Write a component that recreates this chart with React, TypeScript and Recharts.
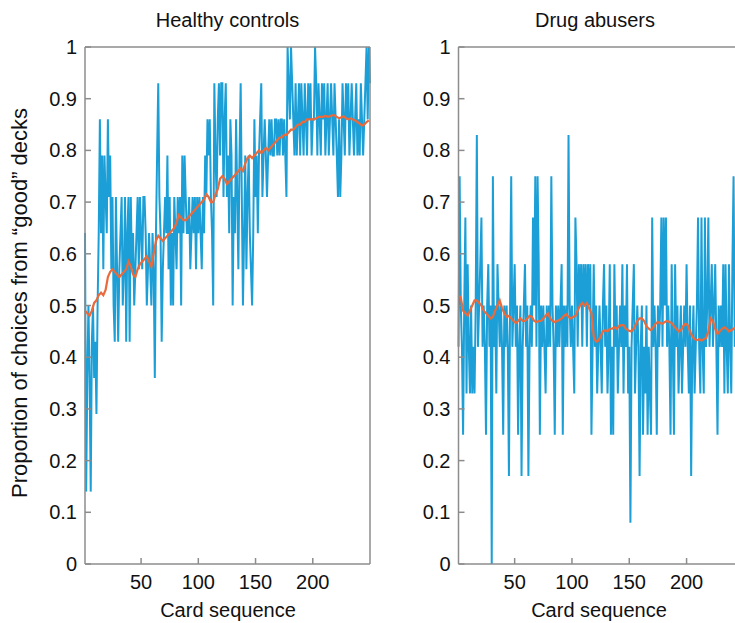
import React from 'react';
import { LineChart, Line, XAxis, YAxis } from 'recharts';

// proportion of "good" deck choices per card
const healthyChoices = [
  0.64, 0.14, 0.36, 0.5, 0.36, 0.14, 0.43, 0.5, 0.36, 0.43, 0.29, 0.5, 0.64,
  0.86, 0.64, 0.79, 0.57, 0.79, 0.71, 0.64, 0.86, 0.71, 0.79, 0.57, 0.71, 0.5, 0.43,
  0.71, 0.57, 0.43, 0.57, 0.64, 0.71, 0.5, 0.57, 0.71, 0.43, 0.64, 0.71, 0.43, 0.71, 0.57, 0.64, 0.5,
  0.57, 0.64, 0.71, 0.57, 0.71, 0.64, 0.57, 0.71, 0.71, 0.64, 0.5, 0.57, 0.64, 0.57, 0.5, 0.64,
  0.57, 0.36, 0.64, 0.79, 0.93, 0.71, 0.64, 0.43, 0.57, 0.64,
  0.71, 0.64, 0.79, 0.57, 0.71, 0.5, 0.64, 0.5, 0.71, 0.64, 0.57, 0.71, 0.64, 0.71, 0.5, 0.79, 0.64, 0.79, 0.71, 0.64,
  0.64, 0.71, 0.57, 0.64, 0.71, 0.64, 0.71, 0.57, 0.71, 0.64, 0.71, 0.64, 0.57, 0.71, 0.64, 0.79, 0.71,
  0.86, 0.79, 0.86, 0.71, 0.64, 0.5, 0.93, 0.79, 0.71, 0.86, 0.93, 0.79, 0.93, 0.93, 0.71, 0.86, 0.93, 0.71, 0.79, 0.64, 0.86,
  0.79, 0.5, 0.71, 0.64, 0.86, 0.71, 0.57, 0.79, 0.93, 0.71, 0.5, 0.64, 0.79, 0.57, 0.71, 0.79,
  0.64, 0.57, 0.5, 0.64, 0.86, 0.71, 0.79, 0.64, 0.79, 0.86, 0.93, 0.71, 0.79, 0.86, 0.79, 0.71,
  0.79, 0.86, 0.79, 0.86, 0.79, 0.79, 0.86, 0.86, 0.79, 0.86, 0.79, 0.86, 0.86, 0.79, 0.86, 0.79,
  0.71, 1, 0.93, 0.86, 1, 0.93, 0.86, 0.79, 0.93, 0.79, 0.86, 0.93, 0.79, 0.93, 0.86, 0.79, 0.93, 0.86, 0.79, 0.93, 0.86, 0.93, 0.79, 0.86,
  0.86, 1, 0.93, 0.79, 0.93, 0.86, 0.79, 0.93, 0.86, 0.93,
  0.79, 0.86, 0.93, 0.79, 0.86, 0.93, 0.86, 0.79, 0.93, 0.86,
  0.79, 0.71, 0.86, 0.71, 0.79, 0.93, 0.86, 0.79, 0.93, 0.86,
  0.93, 0.79, 0.86, 0.93, 0.86, 0.79, 0.86, 0.93, 0.79, 0.86,
  0.79, 0.93, 0.86, 0.79, 0.86, 0.93, 1, 0.86, 1, 0.93,
];

// [card, running mean]
const healthyTrend = [
  [1, 0.49], [3, 0.485], [5, 0.48], [7, 0.49], [9, 0.505], [11, 0.51], [13, 0.52], [15, 0.525], [17, 0.52], [19, 0.53],
  [21, 0.555], [23, 0.565], [25, 0.57], [27, 0.565], [29, 0.56], [31, 0.555], [33, 0.56], [35, 0.565], [37, 0.57], [39, 0.585],
  [41, 0.575], [43, 0.56], [45, 0.555], [47, 0.57], [49, 0.58], [51, 0.585], [53, 0.59], [55, 0.595], [57, 0.585], [59, 0.575],
  [61, 0.6], [63, 0.625], [65, 0.635], [67, 0.63], [69, 0.625], [71, 0.63], [73, 0.635], [75, 0.64], [77, 0.645], [79, 0.65],
  [81, 0.66], [83, 0.675], [85, 0.67], [87, 0.665], [89, 0.665], [91, 0.67], [93, 0.675], [95, 0.68], [97, 0.685], [99, 0.69],
  [101, 0.695], [103, 0.7], [105, 0.705], [107, 0.715], [109, 0.71], [111, 0.7], [113, 0.7], [115, 0.715], [117, 0.725], [119, 0.745],
  [121, 0.75], [123, 0.745], [125, 0.735], [127, 0.74], [129, 0.745], [131, 0.75], [133, 0.755], [135, 0.76], [137, 0.765], [139, 0.76],
  [141, 0.775], [143, 0.785], [145, 0.79], [147, 0.785], [149, 0.79], [151, 0.795], [153, 0.8], [155, 0.795], [157, 0.8], [159, 0.805],
  [161, 0.8], [163, 0.805], [165, 0.81], [167, 0.815], [169, 0.82], [171, 0.825], [173, 0.825], [175, 0.83], [177, 0.83], [179, 0.835],
  [181, 0.84], [183, 0.84], [185, 0.845], [187, 0.85], [189, 0.85], [191, 0.855], [193, 0.855], [195, 0.86], [197, 0.86], [199, 0.86],
  [201, 0.86], [203, 0.862], [205, 0.865], [207, 0.865], [209, 0.865], [211, 0.867], [213, 0.865], [215, 0.866], [217, 0.868], [219, 0.868],
  [221, 0.865], [223, 0.862], [225, 0.864], [227, 0.866], [229, 0.862], [231, 0.86], [233, 0.862], [235, 0.86], [237, 0.858], [239, 0.855],
  [241, 0.852], [243, 0.848], [245, 0.85], [247, 0.855], [249, 0.858],
];

const abuserChoices = [
  0.42, 0.75, 0.5, 0.42, 0.25, 0.5, 0.67, 0.33, 0.58, 0.42, 0.33, 0.5, 0.33, 0.42, 0.33, 0.5, 0.83, 0.42, 0.5, 0.58,
  0.67, 0.42, 0.5, 0.42, 0.25, 0.5, 0.58, 0.42, 0.5, 0, 0.75, 0.42, 0.5, 0.33, 0.58, 0.5, 0.42, 0.5, 0.42, 0.25,
  0.5, 0.42, 0.5, 0.42, 0.17, 0.5, 0.75, 0.42, 0.5, 0.58, 0.42, 0.5, 0.25, 0.42, 0.5, 0.17, 0.42, 0.5, 0.58, 0.42,
  0.5, 0.17, 0.42, 0.5, 0.42, 0.67, 0.5, 0.75, 0.42, 0.75, 0.58, 0.25, 0.5, 0.42, 0.5, 0.42, 0.33, 0.5, 0.42, 0.5,
  0.42, 0.75, 0.5, 0.42, 0.25, 0.5, 0.42, 0.5, 0.42, 0.5, 0.58, 0.25, 0.5, 0.42, 0.5, 0.42, 0.83, 0.5, 0.42, 0.5,
  0.42, 0.33, 0.67, 0.58, 0.42, 0.58, 0.5, 0.58, 0.42, 0.58, 0.5, 0.58, 0.42, 0.58, 0.5, 0.58, 0.25, 0.42, 0.58, 0.42,
  0.5, 0.33, 0.42, 0.5, 0.42, 0.33, 0.5, 0.58, 0.42, 0.5, 0.33, 0.42, 0.58, 0.25, 0.42, 0.25, 0.58, 0.42, 0.5, 0.33,
  0.42, 0.5, 0.42, 0.58, 0.33, 0.5, 0.42, 0.58, 0.33, 0.42, 0.08, 0.42, 0.5, 0.58, 0.33, 0.42, 0.5, 0.42, 0.17, 0.42,
  0.5, 0.25, 0.42, 0.33, 0.5, 0.25, 0.42, 0.33, 0.25, 0.67, 0.42, 0.5, 0.42, 0.25, 0.5, 0.42, 0.5, 0.67, 0.42, 0.67,
  0.5, 0.67, 0.42, 0.5, 0.42, 0.25, 0.58, 0.42, 0.25, 0.58, 0.42, 0.5, 0.33, 0.42, 0.5, 0.33, 0.42, 0.5, 0.42, 0.58,
  0.42, 0.33, 0.5, 0.17, 0.42, 0.5, 0.33, 0.42, 0.5, 0.67, 0.42, 0.33, 0.67, 0.42, 0.33, 0.67, 0.42, 0.5, 0.67, 0.42,
  0.5, 0.58, 0.42, 0.5, 0.58, 0.42, 0.25, 0.5, 0.42, 0.5, 0.42, 0.58, 0.33, 0.58, 0.42, 0.33, 0.58, 0.42, 0.33, 0.58,
  0.75, 0.42, 0.5, 0.42,
];

const abuserTrend = [
  [1, 0.52], [3, 0.515], [5, 0.49], [7, 0.485], [9, 0.48], [11, 0.49], [13, 0.5], [15, 0.51], [17, 0.51], [19, 0.505],
  [21, 0.5], [23, 0.49], [25, 0.485], [27, 0.48], [29, 0.475], [31, 0.478], [33, 0.49], [35, 0.5], [37, 0.51], [39, 0.495],
  [41, 0.485], [43, 0.478], [45, 0.48], [47, 0.475], [49, 0.47], [51, 0.466], [53, 0.47], [55, 0.475], [57, 0.47], [59, 0.47],
  [61, 0.475], [63, 0.48], [65, 0.478], [67, 0.47], [69, 0.468], [71, 0.47], [73, 0.47], [75, 0.475], [77, 0.48], [79, 0.485],
  [81, 0.475], [83, 0.47], [85, 0.468], [87, 0.47], [89, 0.472], [91, 0.475], [93, 0.48], [95, 0.483], [97, 0.478], [99, 0.475],
  [101, 0.478], [103, 0.48], [105, 0.49], [107, 0.5], [109, 0.505], [111, 0.5], [113, 0.505], [115, 0.495], [117, 0.485], [119, 0.44],
  [121, 0.43], [123, 0.432], [125, 0.44], [127, 0.45], [129, 0.452], [131, 0.45], [133, 0.455], [135, 0.455], [137, 0.458], [139, 0.455],
  [141, 0.46], [143, 0.462], [145, 0.462], [147, 0.455], [149, 0.452], [151, 0.45], [153, 0.452], [155, 0.46], [157, 0.47], [159, 0.475],
  [161, 0.475], [163, 0.47], [165, 0.46], [167, 0.455], [169, 0.452], [171, 0.458], [173, 0.465], [175, 0.468], [177, 0.466], [179, 0.465],
  [181, 0.468], [183, 0.47], [185, 0.468], [187, 0.466], [189, 0.46], [191, 0.455], [193, 0.45], [195, 0.452], [197, 0.46], [199, 0.465],
  [201, 0.462], [203, 0.45], [205, 0.44], [207, 0.435], [209, 0.433], [211, 0.435], [213, 0.432], [215, 0.435], [217, 0.437], [219, 0.45],
  [221, 0.475], [223, 0.47], [225, 0.455], [227, 0.445], [229, 0.45], [231, 0.455], [233, 0.458], [235, 0.455], [237, 0.45], [239, 0.452],
  [241, 0.455], [243, 0.458],
];

const yTicks = [0, 0.1, 0.2, 0.3, 0.4, 0.5, 0.6, 0.7, 0.8, 0.9, 1];
const xTicks = [50, 100, 150, 200];

const BLUE = '#1b9fd6';
const ORANGE = '#ea6a3b';
const AXIS = '#8c8c8c';
const FONT = '"Liberation Sans", Arial, Helvetica, sans-serif';
const TICK_LEN = 6;

const BottomTick = (props: any) => {
  const { x, y, payload } = props;
  return (
    <g>
      <line x1={x} x2={x} y1={y} y2={y - TICK_LEN} stroke={AXIS} strokeWidth={1.5} />
      <text x={x} y={y + 25} textAnchor="middle" fontSize={20} fontFamily={FONT} fill="#111">
        {payload.value}
      </text>
    </g>
  );
};

const TopTick = (props: any) => {
  const { x, y } = props;
  return <line x1={x} x2={x} y1={y} y2={y + TICK_LEN} stroke={AXIS} strokeWidth={1.5} />;
};

const LeftTick = (props: any) => {
  const { x, y, payload } = props;
  return (
    <g>
      <line x1={x} x2={x + TICK_LEN} y1={y} y2={y} stroke={AXIS} strokeWidth={1.5} />
      <text x={x - 8} y={y + 7} textAnchor="end" fontSize={20} fontFamily={FONT} fill="#111">
        {String(payload.value)}
      </text>
    </g>
  );
};

const RightTick = (props: any) => {
  const { x, y } = props;
  return <line x1={x} x2={x - TICK_LEN} y1={y} y2={y} stroke={AXIS} strokeWidth={1.5} />;
};

interface PanelProps {
  choices: number[];
  trend: number[][];
  maxCard: number;
  width: number;
  left: number;
}

// axes get a 1px thickness so recharts still draws them; margins absorb it
function Panel({ choices, trend, maxCard, width, left }: PanelProps) {
  const raw = choices.map((p, i) => ({ card: i + 1, p }));
  const avg = trend.map(([card, p]) => ({ card, p }));
  const axisLine = { stroke: AXIS, strokeWidth: 1.5 };
  return (
    <LineChart width={width} height={623} margin={{ top: 46, right: 9, bottom: 58, left: left - 1 }}>
      <XAxis
        xAxisId="b"
        dataKey="card"
        type="number"
        domain={[1, maxCard]}
        ticks={xTicks}
        interval={0}
        height={1}
        tickSize={0}
        tickMargin={0}
        tickLine={false}
        axisLine={axisLine}
        tick={<BottomTick />}
      />
      <XAxis
        xAxisId="t"
        orientation="top"
        type="number"
        domain={[1, maxCard]}
        ticks={xTicks}
        interval={0}
        height={1}
        tickSize={0}
        tickMargin={0}
        tickLine={false}
        axisLine={axisLine}
        tick={<TopTick />}
      />
      <YAxis
        yAxisId="l"
        type="number"
        domain={[0, 1]}
        ticks={yTicks}
        interval={0}
        width={1}
        tickSize={0}
        tickMargin={0}
        tickLine={false}
        axisLine={axisLine}
        tick={<LeftTick />}
      />
      <YAxis
        yAxisId="r"
        orientation="right"
        type="number"
        domain={[0, 1]}
        ticks={yTicks}
        interval={0}
        width={1}
        tickSize={0}
        tickMargin={0}
        tickLine={false}
        axisLine={axisLine}
        tick={<RightTick />}
      />
      <Line
        xAxisId="b"
        yAxisId="l"
        data={raw}
        dataKey="p"
        stroke={BLUE}
        strokeWidth={2}
        dot={false}
        activeDot={false}
        isAnimationActive={false}
      />
      <Line
        xAxisId="b"
        yAxisId="l"
        data={avg}
        dataKey="p"
        stroke={ORANGE}
        strokeWidth={2.2}
        dot={false}
        activeDot={false}
        isAnimationActive={false}
      />
    </LineChart>
  );
}

export default function App() {
  return (
    <div
      style={{
        position: 'fixed',
        left: 0,
        top: 0,
        width: 735,
        height: 623,
        overflow: 'hidden',
        background: '#fff',
      }}
    >
      <div style={{ position: 'absolute', left: 0, top: 0 }}>
        <Panel choices={healthyChoices} trend={healthyTrend} maxCard={250} width={380} left={85} />
      </div>
      <div style={{ position: 'absolute', left: 380, top: 0 }}>
        <Panel choices={abuserChoices} trend={abuserTrend} maxCard={244} width={367} left={78.5} />
      </div>
      <svg
        width={735}
        height={623}
        style={{ position: 'absolute', left: 0, top: 0, pointerEvents: 'none' }}
        fontFamily={FONT}
        fill="#111"
      >
        <text x={227.5} y={27} textAnchor="middle" fontSize={20}>Healthy controls</text>
        <text x={595} y={27} textAnchor="middle" fontSize={20}>Drug abusers</text>
        <text x={228} y={617} textAnchor="middle" fontSize={20}>Card sequence</text>
        <text x={599} y={617} textAnchor="middle" fontSize={20}>Card sequence</text>
        <text transform="translate(27, 303) rotate(-90)" textAnchor="middle" fontSize={22}>
          Proportion of choices from “good” decks
        </text>
      </svg>
    </div>
  );
}
